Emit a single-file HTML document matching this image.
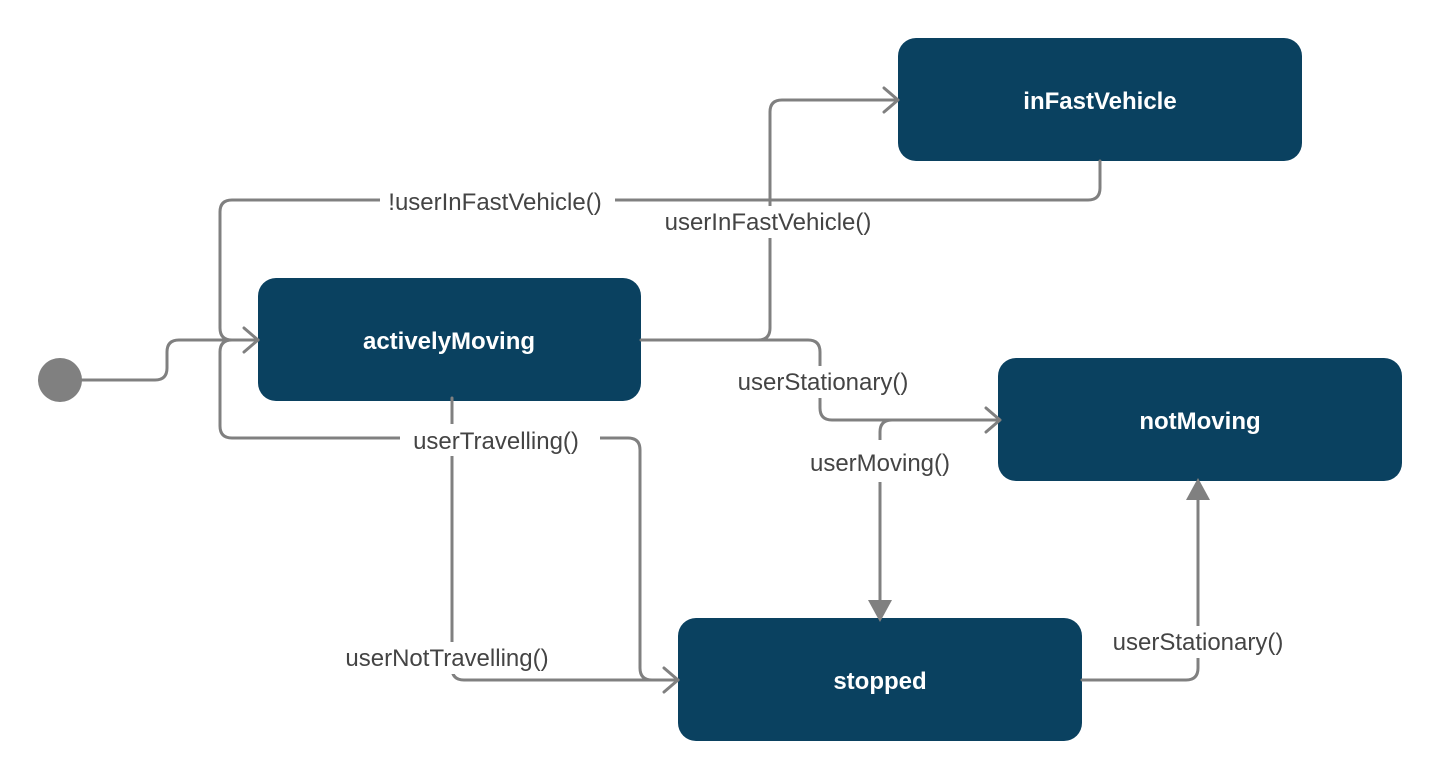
<!DOCTYPE html>
<html><head><meta charset="utf-8"><style>
html,body{margin:0;padding:0;background:#fff;width:1440px;height:780px;overflow:hidden}
svg{display:block}
.n{fill:#0a4160}
.t{font-family:"Liberation Sans",sans-serif;font-size:24px;fill:#fff;text-anchor:middle;font-weight:bold}
.l{font-family:"Liberation Sans",sans-serif;font-size:24px;fill:#444;text-anchor:middle}
.e{fill:none;stroke:#808080;stroke-width:3;stroke-linejoin:round;stroke-linecap:round}
.bg{fill:#fff}
</style></head><body>
<svg width="1440" height="780" viewBox="0 0 1440 780">
<rect class="n" x="898" y="38" width="404" height="123" rx="18"/>
<rect class="n" x="258" y="278" width="383" height="123" rx="18"/>
<rect class="n" x="998" y="358" width="404" height="123" rx="18"/>
<rect class="n" x="678" y="618" width="404" height="123" rx="18"/>
<circle cx="60" cy="380" r="22" fill="#808080"/>

<path class="e" d="M82,380 H155 q12,0 12,-12 V352 q0,-12 12,-12 H258"/>
<path class="e" d="M1100,161 V188 q0,12 -12,12 H232 q-12,0 -12,12 V328 q0,12 12,12 H258"/>
<path class="e" d="M258,340 H232 q-12,0 -12,12 V426 q0,12 12,12 H628 q12,0 12,12 V668 q0,12 12,12 H678"/>
<path class="e" d="M452,398 V668 q0,12 12,12 H678"/>
<path class="e" d="M641,340 H758 q12,0 12,-12 V112 q0,-12 12,-12 H896"/>
<path class="e" d="M758,340 H808 q12,0 12,12 V408 q0,12 12,12 H998"/>
<path class="e" d="M910,420 H892 q-12,0 -12,12 V605"/>
<path class="e" d="M1082,680 H1186 q12,0 12,-12 V495"/>

<path class="e" d="M244,328 L258,340 L244,352"/>
<path class="e" d="M664,668 L678,680 L664,692"/>
<path class="e" d="M884,88 L898,100 L884,112"/>
<path class="e" d="M986,408 L1000,420 L986,432"/>
<polygon points="868,600 892,600 880,622" fill="#808080"/>
<polygon points="1186,500 1210,500 1198,478" fill="#808080"/>

<rect class="bg" x="380" y="185" width="235" height="32"/>
<text class="l" x="495" y="210">!userInFastVehicle()</text>
<rect class="bg" x="655" y="206" width="230" height="32"/>
<text class="l" x="768" y="230">userInFastVehicle()</text>
<rect class="bg" x="715" y="366" width="215" height="32"/>
<text class="l" x="823" y="390">userStationary()</text>
<rect class="bg" x="400" y="424" width="200" height="32"/>
<text class="l" x="496" y="449">userTravelling()</text>
<rect class="bg" x="795" y="440" width="170" height="42"/>
<text class="l" x="880" y="471">userMoving()</text>
<rect class="bg" x="330" y="642" width="235" height="32"/>
<text class="l" x="447" y="666">userNotTravelling()</text>
<rect class="bg" x="1098" y="626" width="200" height="32"/>
<text class="l" x="1198" y="650">userStationary()</text>

<text class="t" x="1100" y="109">inFastVehicle</text>
<text class="t" x="449" y="349">activelyMoving</text>
<text class="t" x="1200" y="429">notMoving</text>
<text class="t" x="880" y="689">stopped</text>
</svg>
</body></html>
